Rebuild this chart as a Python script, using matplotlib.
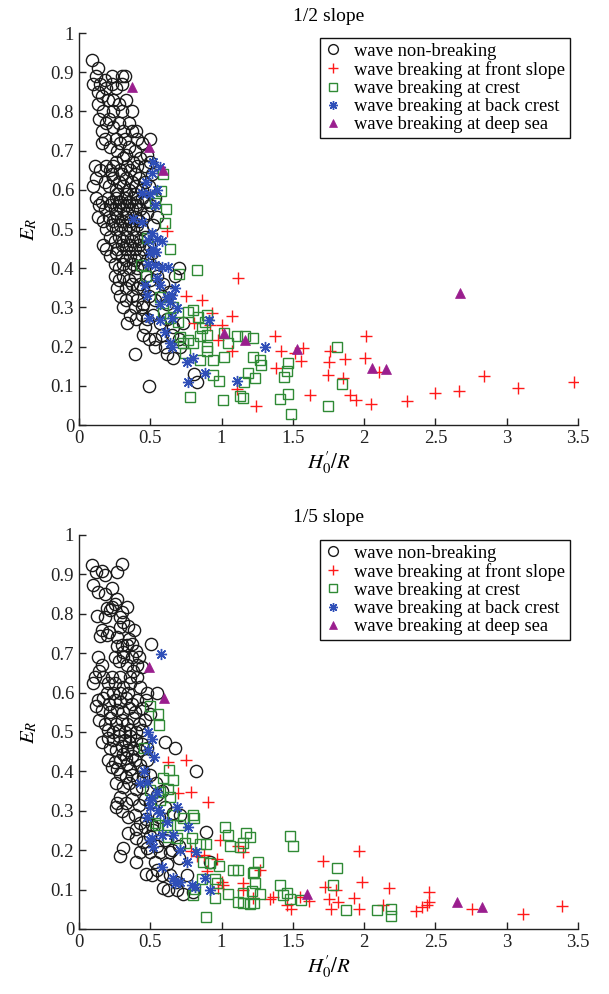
import numpy as np
import matplotlib as mpl
mpl.use('Agg')
from matplotlib import pyplot as plt

plt.rcParams['font.family'] = ['Liberation Serif', 'DejaVu Serif']
plt.rcParams['mathtext.fontset'] = 'stix'

# ---------------------------------------------------------------
# Measured reflection coefficient E_R against H'0/R, two slopes
# ---------------------------------------------------------------

# 1/2 slope
half_nonbreak = [
    (0.09, 0.93), (0.13, 0.91), (0.12, 0.89),
    (0.10, 0.87), (0.15, 0.87), (0.18, 0.88), (0.23, 0.89), (0.30, 0.89), (0.32, 0.89), (0.23, 0.87),
    (0.30, 0.87), (0.13, 0.85), (0.19, 0.86), (0.16, 0.84), (0.26, 0.86),
    (0.24, 0.83), (0.20, 0.83), (0.33, 0.83), (0.17, 0.80), (0.24, 0.80), (0.30, 0.80), (0.37, 0.80),
    (0.13, 0.82), (0.28, 0.82),
    (0.14, 0.78), (0.21, 0.78), (0.28, 0.77), (0.35, 0.77), (0.40, 0.75), (0.16, 0.75), (0.24, 0.76),
    (0.31, 0.75), (0.37, 0.75), (0.19, 0.77),
    (0.18, 0.73), (0.26, 0.73), (0.32, 0.73), (0.41, 0.73), (0.50, 0.73), (0.16, 0.72), (0.22, 0.71),
    (0.29, 0.72), (0.35, 0.71), (0.44, 0.72), (0.39, 0.70), (0.27, 0.70), (0.33, 0.69),
    (0.11, 0.66), (0.19, 0.66), (0.26, 0.67), (0.31, 0.68), (0.38, 0.67), (0.43, 0.68), (0.48, 0.69),
    (0.15, 0.65), (0.22, 0.65), (0.29, 0.65), (0.36, 0.65), (0.41, 0.66), (0.46, 0.66), (0.50, 0.67),
    (0.34, 0.66), (0.24, 0.66),
    (0.12, 0.63), (0.18, 0.62), (0.24, 0.63), (0.28, 0.62), (0.33, 0.63), (0.37, 0.62), (0.42, 0.63),
    (0.46, 0.62), (0.51, 0.64), (0.10, 0.61), (0.21, 0.61), (0.26, 0.60), (0.31, 0.61), (0.35, 0.60),
    (0.40, 0.61), (0.44, 0.60), (0.49, 0.61), (0.30, 0.64), (0.39, 0.64), (0.23, 0.64),
    (0.12, 0.58), (0.16, 0.57), (0.20, 0.58), (0.23, 0.57), (0.26, 0.58), (0.29, 0.57), (0.32, 0.58),
    (0.35, 0.57), (0.38, 0.58), (0.41, 0.57), (0.44, 0.58), (0.47, 0.57), (0.14, 0.56), (0.18, 0.55),
    (0.22, 0.56), (0.25, 0.55), (0.28, 0.56), (0.31, 0.55), (0.34, 0.56), (0.37, 0.55), (0.40, 0.56),
    (0.43, 0.55), (0.50, 0.56), (0.53, 0.58), (0.27, 0.59), (0.33, 0.59), (0.39, 0.59),
    (0.13, 0.53), (0.17, 0.52), (0.21, 0.53), (0.24, 0.52), (0.27, 0.53), (0.30, 0.52), (0.33, 0.53),
    (0.36, 0.52), (0.39, 0.53), (0.42, 0.52), (0.45, 0.53), (0.48, 0.54), (0.19, 0.50), (0.23, 0.51),
    (0.26, 0.50), (0.29, 0.51), (0.32, 0.50), (0.35, 0.51), (0.38, 0.50), (0.41, 0.51), (0.44, 0.50),
    (0.52, 0.51), (0.55, 0.53), (0.26, 0.54), (0.34, 0.54),
    (0.17, 0.46), (0.22, 0.48), (0.25, 0.47), (0.28, 0.48), (0.31, 0.47), (0.34, 0.48), (0.37, 0.47),
    (0.40, 0.48), (0.43, 0.47), (0.46, 0.48), (0.19, 0.45), (0.27, 0.45), (0.30, 0.46), (0.33, 0.45),
    (0.36, 0.46), (0.39, 0.45), (0.42, 0.46), (0.45, 0.45), (0.49, 0.46),
    (0.22, 0.43), (0.26, 0.44), (0.30, 0.43), (0.33, 0.42), (0.36, 0.43), (0.39, 0.42), (0.42, 0.43),
    (0.45, 0.41), (0.48, 0.42), (0.51, 0.44), (0.25, 0.41), (0.28, 0.40), (0.31, 0.41), (0.35, 0.40),
    (0.38, 0.41), (0.41, 0.40), (0.54, 0.40),
    (0.25, 0.38), (0.28, 0.37), (0.31, 0.38), (0.35, 0.37), (0.39, 0.38), (0.43, 0.36), (0.47, 0.38),
    (0.50, 0.37), (0.55, 0.38), (0.27, 0.35), (0.33, 0.35), (0.37, 0.36), (0.41, 0.35), (0.45, 0.35),
    (0.59, 0.36), (0.70, 0.40), (0.67, 0.38),
    (0.29, 0.33), (0.33, 0.32), (0.37, 0.33), (0.41, 0.32), (0.45, 0.31), (0.49, 0.33), (0.53, 0.32),
    (0.58, 0.33), (0.62, 0.31), (0.31, 0.30), (0.39, 0.30), (0.44, 0.30), (0.63, 0.34),
    (0.34, 0.26), (0.36, 0.28), (0.40, 0.27), (0.44, 0.28), (0.48, 0.27), (0.52, 0.28), (0.57, 0.26),
    (0.62, 0.27), (0.46, 0.25), (0.73, 0.26), (0.66, 0.25),
    (0.45, 0.23), (0.49, 0.22), (0.53, 0.22), (0.53, 0.20), (0.60, 0.20), (0.58, 0.23), (0.65, 0.23),
    (0.70, 0.22), (0.71, 0.20),
    (0.39, 0.18), (0.49, 0.10), (0.66, 0.17), (0.81, 0.13), (0.83, 0.11), (0.62, 0.18),
]
half_front = [
    (0.62, 0.495), (1.117, 0.374), (0.75, 0.329), (0.865, 0.319), (0.93, 0.285), (1.075, 0.279),
    (0.81, 0.259), (0.92, 0.255), (1.0, 0.255), (0.977, 0.217), (1.07, 0.189), (1.106, 0.093),
    (1.24, 0.048), (1.375, 0.227), (1.417, 0.19), (1.515, 0.183), (1.573, 0.196), (1.56, 0.164),
    (1.379, 0.146), (1.62, 0.076), (1.76, 0.19), (1.753, 0.16), (1.863, 0.169), (1.746, 0.127),
    (1.849, 0.12), (1.90, 0.077), (1.94, 0.064), (2.015, 0.227), (2.003, 0.171), (2.05, 0.054),
    (2.106, 0.136), (2.30, 0.061), (2.50, 0.082), (2.667, 0.088), (2.838, 0.124), (3.078, 0.094),
    (3.473, 0.109),
]
half_crest = [
    (0.59, 0.64), (0.573, 0.598), (0.533, 0.566), (0.61, 0.55), (0.603, 0.516), (0.475, 0.476),
    (0.638, 0.448), (0.432, 0.408), (0.47, 0.38), (0.825, 0.395), (0.70, 0.386), (0.568, 0.327),
    (0.66, 0.302), (0.767, 0.289), (0.80, 0.293), (0.895, 0.281), (0.837, 0.275), (0.884, 0.264),
    (0.591, 0.285), (0.638, 0.272), (0.696, 0.264), (0.86, 0.247), (0.895, 0.23), (0.849, 0.227),
    (0.708, 0.225), (0.732, 0.21), (0.767, 0.217), (0.80, 0.208), (0.895, 0.20), (0.895, 0.19),
    (1.02, 0.234), (1.106, 0.227), (1.164, 0.228), (1.218, 0.223), (1.047, 0.208), (0.743, 0.183),
    (0.849, 0.166), (0.942, 0.166), (1.017, 0.174), (1.218, 0.174), (1.27, 0.166), (1.274, 0.153),
    (1.234, 0.119), (1.187, 0.132), (1.157, 0.11), (0.942, 0.128), (0.984, 0.113), (0.778, 0.072),
    (1.008, 0.064), (1.129, 0.075), (1.152, 0.068), (1.463, 0.157), (1.456, 0.139), (1.44, 0.123),
    (1.463, 0.079), (1.41, 0.066), (1.49, 0.027), (1.812, 0.198), (1.842, 0.105), (1.744, 0.048),
]
half_back = [
    (0.521, 0.672), (0.568, 0.659), (0.51, 0.642), (0.47, 0.62), (0.44, 0.591), (0.498, 0.59),
    (0.545, 0.60), (0.533, 0.561), (0.381, 0.525), (0.44, 0.519), (0.486, 0.472), (0.545, 0.474),
    (0.58, 0.47), (0.498, 0.438), (0.54, 0.442), (0.486, 0.412), (0.533, 0.408), (0.58, 0.404),
    (0.626, 0.404), (0.545, 0.374), (0.463, 0.357), (0.568, 0.357), (0.673, 0.349), (0.65, 0.332),
    (0.615, 0.327), (0.475, 0.332), (0.568, 0.31), (0.638, 0.315), (0.685, 0.298), (0.491, 0.272),
    (0.568, 0.268), (0.65, 0.272), (0.914, 0.268), (0.603, 0.238), (0.638, 0.208), (0.65, 0.20),
    (0.76, 0.162), (0.80, 0.17), (0.884, 0.132), (0.767, 0.11), (1.106, 0.112), (1.304, 0.20),
    (0.52, 0.45), (0.51, 0.49),
]
half_deep = [
    (0.369, 0.863), (0.491, 0.71), (0.591, 0.65), (1.019, 0.234), (1.164, 0.217), (1.527, 0.193),
    (2.672, 0.338), (2.052, 0.146), (2.15, 0.143),
]

# 1/5 slope
fifth_nonbreak = [
    (0.089, 0.924), (0.299, 0.926), (0.119, 0.905), (0.159, 0.909), (0.182, 0.898), (0.269, 0.907),
    (0.10, 0.873), (0.135, 0.854), (0.182, 0.85), (0.229, 0.865), (0.264, 0.838), (0.252, 0.825),
    (0.194, 0.814), (0.229, 0.816), (0.217, 0.81), (0.339, 0.818), (0.299, 0.805),
    (0.124, 0.794), (0.182, 0.791), (0.287, 0.793), (0.159, 0.759), (0.212, 0.755), (0.287, 0.767),
    (0.346, 0.769), (0.386, 0.759), (0.31, 0.78),
    (0.147, 0.744), (0.199, 0.746), (0.264, 0.742), (0.264, 0.718), (0.299, 0.72), (0.334, 0.72),
    (0.369, 0.724), (0.31, 0.703), (0.505, 0.723), (0.35, 0.735), (0.40, 0.705),
    (0.135, 0.69), (0.252, 0.69), (0.311, 0.69), (0.369, 0.69), (0.423, 0.69), (0.159, 0.67),
    (0.334, 0.67), (0.405, 0.67), (0.44, 0.665), (0.28, 0.68), (0.38, 0.655),
    (0.112, 0.64), (0.17, 0.64), (0.229, 0.64), (0.287, 0.64), (0.358, 0.64), (0.405, 0.64),
    (0.10, 0.624), (0.205, 0.624), (0.252, 0.624), (0.358, 0.624), (0.194, 0.60), (0.24, 0.60),
    (0.287, 0.60), (0.346, 0.60), (0.479, 0.60), (0.545, 0.60), (0.31, 0.615), (0.43, 0.615),
    (0.14, 0.655),
    (0.13, 0.58), (0.17, 0.585), (0.21, 0.57), (0.25, 0.58), (0.29, 0.575), (0.33, 0.585),
    (0.37, 0.57), (0.41, 0.58), (0.44, 0.56), (0.16, 0.555), (0.22, 0.55), (0.27, 0.555),
    (0.31, 0.55), (0.35, 0.56), (0.39, 0.55), (0.47, 0.58), (0.12, 0.565),
    (0.14, 0.53), (0.18, 0.52), (0.22, 0.535), (0.26, 0.52), (0.30, 0.53), (0.34, 0.52),
    (0.38, 0.535), (0.42, 0.52), (0.46, 0.53), (0.20, 0.505), (0.24, 0.50), (0.28, 0.505),
    (0.32, 0.50), (0.36, 0.505), (0.40, 0.50), (0.44, 0.505), (0.50, 0.545),
    (0.159, 0.475), (0.20, 0.485), (0.24, 0.48), (0.28, 0.49), (0.32, 0.48), (0.36, 0.49),
    (0.40, 0.48), (0.44, 0.47), (0.603, 0.475), (0.673, 0.459), (0.22, 0.46), (0.26, 0.455),
    (0.30, 0.465), (0.34, 0.455), (0.38, 0.46), (0.42, 0.455), (0.48, 0.46), (0.35, 0.475),
    (0.31, 0.445), (0.37, 0.44), (0.33, 0.435),
    (0.20, 0.43), (0.25, 0.425), (0.29, 0.43), (0.34, 0.42), (0.39, 0.43), (0.43, 0.415),
    (0.48, 0.43), (0.82, 0.402), (0.23, 0.41), (0.27, 0.405), (0.36, 0.405), (0.45, 0.40),
    (0.287, 0.393), (0.33, 0.385), (0.37, 0.39), (0.41, 0.38), (0.45, 0.385), (0.50, 0.39),
    (0.26, 0.37), (0.31, 0.36), (0.35, 0.37), (0.40, 0.355), (0.44, 0.36), (0.54, 0.37), (0.58, 0.35),
    (0.259, 0.31), (0.29, 0.335), (0.33, 0.32), (0.37, 0.33), (0.42, 0.315), (0.46, 0.33),
    (0.50, 0.32), (0.55, 0.34), (0.60, 0.31), (0.30, 0.30), (0.27, 0.32),
    (0.346, 0.285), (0.39, 0.29), (0.43, 0.27), (0.47, 0.28), (0.51, 0.265), (0.56, 0.285),
    (0.66, 0.294), (0.708, 0.29), (0.463, 0.26), (0.40, 0.255), (0.52, 0.25),
    (0.346, 0.243), (0.311, 0.205), (0.40, 0.23), (0.45, 0.22), (0.50, 0.235), (0.55, 0.21),
    (0.60, 0.225), (0.65, 0.20), (0.89, 0.247), (0.48, 0.205), (0.70, 0.21),
    (0.287, 0.184), (0.428, 0.195), (0.498, 0.195), (0.568, 0.195), (0.638, 0.195), (0.918, 0.169),
    (0.40, 0.17), (0.53, 0.17), (0.62, 0.165), (0.70, 0.18),
    (0.51, 0.137), (0.58, 0.137), (0.638, 0.137), (0.756, 0.137), (0.55, 0.15), (0.47, 0.14),
    (0.68, 0.12),
    (0.626, 0.099), (0.685, 0.099), (0.732, 0.09), (0.80, 0.095), (0.59, 0.105),
]
fifth_front = [
    (0.622, 0.423), (0.75, 0.429), (0.696, 0.344), (0.783, 0.348), (0.907, 0.323), (0.989, 0.226),
    (1.117, 0.211), (1.152, 0.196), (0.785, 0.198), (0.825, 0.184), (0.877, 0.188), (0.966, 0.178),
    (0.90, 0.148), (1.269, 0.15), (1.0, 0.12), (1.012, 0.112), (0.977, 0.103), (1.148, 0.116),
    (1.148, 0.099), (1.222, 0.078), (1.339, 0.075), (1.358, 0.082), (1.456, 0.062), (1.49, 0.05),
    (1.55, 0.082), (1.615, 0.071), (1.713, 0.173), (1.725, 0.107), (1.802, 0.10), (1.755, 0.075),
    (1.818, 0.069), (1.765, 0.05), (1.931, 0.079), (1.966, 0.05), (1.966, 0.199), (1.987, 0.118),
    (2.13, 0.061), (2.176, 0.103), (2.363, 0.046), (2.403, 0.057), (2.438, 0.061), (2.454, 0.069),
    (2.454, 0.095), (2.754, 0.051), (3.111, 0.037), (3.385, 0.059),
]
fifth_crest = [
    (0.498, 0.566), (0.556, 0.546), (0.563, 0.518), (0.456, 0.459), (0.633, 0.404), (0.591, 0.382),
    (0.661, 0.378), (0.498, 0.353), (0.568, 0.348), (0.638, 0.335), (0.626, 0.355), (0.568, 0.327),
    (0.661, 0.289), (0.708, 0.264), (0.802, 0.289), (0.732, 0.281), (0.806, 0.281), (0.533, 0.268),
    (0.556, 0.264), (0.615, 0.264), (1.024, 0.258), (1.047, 0.239), (1.171, 0.243), (1.199, 0.234),
    (1.48, 0.237), (1.499, 0.211), (0.626, 0.234), (0.685, 0.23), (0.743, 0.218), (0.79, 0.23),
    (0.849, 0.216), (0.89, 0.216), (1.059, 0.211), (1.129, 0.209), (1.152, 0.218), (0.872, 0.171),
    (0.919, 0.168), (0.984, 0.161), (1.082, 0.15), (1.117, 0.15), (1.222, 0.143), (1.257, 0.171),
    (0.86, 0.127), (0.954, 0.127), (0.966, 0.116), (1.234, 0.117), (1.211, 0.097), (1.269, 0.088),
    (1.148, 0.092), (1.047, 0.088), (0.954, 0.078), (1.117, 0.068), (1.152, 0.065), (1.199, 0.063),
    (1.41, 0.112), (1.433, 0.086), (1.48, 0.076), (0.80, 0.086), (0.813, 0.102), (0.89, 0.031),
    (1.227, 0.144), (1.227, 0.067), (1.811, 0.154), (1.461, 0.092), (1.555, 0.074), (1.779, 0.111),
    (1.872, 0.048), (2.088, 0.048), (2.188, 0.052), (2.188, 0.033),
]
fifth_back = [
    (0.573, 0.697), (0.486, 0.50), (0.51, 0.481), (0.486, 0.454), (0.526, 0.436), (0.456, 0.402),
    (0.475, 0.374), (0.428, 0.37), (0.51, 0.332), (0.498, 0.327), (0.545, 0.348), (0.556, 0.302),
    (0.685, 0.31), (0.475, 0.283), (0.615, 0.272), (0.767, 0.26), (0.51, 0.23), (0.58, 0.239),
    (0.661, 0.239), (0.521, 0.209), (0.708, 0.20), (0.82, 0.196), (0.755, 0.169), (0.58, 0.158),
    (0.661, 0.129), (0.708, 0.12), (0.673, 0.116), (0.79, 0.112), (0.813, 0.107), (0.884, 0.129),
    (0.919, 0.099), (0.498, 0.226), (0.568, 0.294), (0.498, 0.31),
]
fifth_deep = [
    (0.491, 0.666), (0.598, 0.586), (1.597, 0.089), (2.653, 0.068), (2.824, 0.055),
]

labels = ['wave non-breaking', 'wave breaking at front slope', 'wave breaking at crest',
          'wave breaking at back crest', 'wave breaking at deep sea']
titles = ['1/2 slope', '1/5 slope']
xticks = [0, 0.5, 1, 1.5, 2, 2.5, 3, 3.5]
yticks = [0, 0.1, 0.2, 0.3, 0.4, 0.5, 0.6, 0.7, 0.8, 0.9, 1]

# marker styles per wave class (MATLAB-like look)
styles = [
    dict(marker='o', ms=8.8, mfc='none', mec='#1a1a1a', mew=1.0),
    dict(marker='+', ms=8.5, mec='#ff1a1a', mew=1.0),
    dict(marker='s', ms=6.8, mfc='none', mec='#2f8a35', mew=1.0),
    dict(marker=(8, 2, 0), ms=8.0, mec='#2f4fb8', mew=1.0),
    dict(marker='^', ms=7.5, mfc='#9a1e8e', mec='#9a1e8e', mew=0.5),
]

fig = plt.figure(figsize=(6.09, 9.94), dpi=100)
ax_top = fig.add_axes([0.1297, 0.5724, 0.8194, 0.3944])
ax_bot = fig.add_axes([0.1297, 0.0654, 0.8194, 0.3964])

panels = [
    (ax_top, [half_nonbreak, half_front, half_crest, half_back, half_deep], titles[0]),
    (ax_bot, [fifth_nonbreak, fifth_front, fifth_crest, fifth_back, fifth_deep], titles[1]),
]

for ax, series, ttl in panels:
    for pts, st, lab in zip(series, styles, labels):
        pts = np.array(pts)
        ax.plot(pts[:, 0], pts[:, 1], linestyle='none', label=lab, **st)

    ax.set_xlim(0, 3.5)
    ax.set_ylim(0, 1)
    ax.set_xticks(xticks)
    ax.set_xticklabels(['%g' % t for t in xticks])
    ax.set_yticks(yticks)
    ax.set_yticklabels(['%g' % t for t in yticks])
    ax.tick_params(direction='in', length=5, width=1, labelsize=13.5, colors='#222222')
    ax.spines['top'].set_visible(False)
    ax.spines['right'].set_visible(False)
    for s in ['left', 'bottom']:
        ax.spines[s].set_linewidth(1.0)
        ax.spines[s].set_color('#222222')

    ax.set_title(ttl, fontsize=14, pad=9)
    ax.set_xlabel(r"$H^{\prime}_{0}/R$", fontsize=15, labelpad=2)
    ax.set_ylabel(r"$E_R$", fontsize=15, labelpad=8)

    leg = ax.legend(loc='upper right', bbox_to_anchor=(0.984, 0.988), fontsize=13.3,
                    handlelength=0.8, handletextpad=0.75, borderpad=0.28, labelspacing=0.06,
                    borderaxespad=0.0, fancybox=False, framealpha=1)
    leg.get_frame().set_edgecolor('#111111')
    leg.get_frame().set_linewidth(1.0)
    for h in leg.legend_handles:
        h.set_markersize(h.get_markersize() * 0.8)

fig.savefig('out.png', dpi=100)
